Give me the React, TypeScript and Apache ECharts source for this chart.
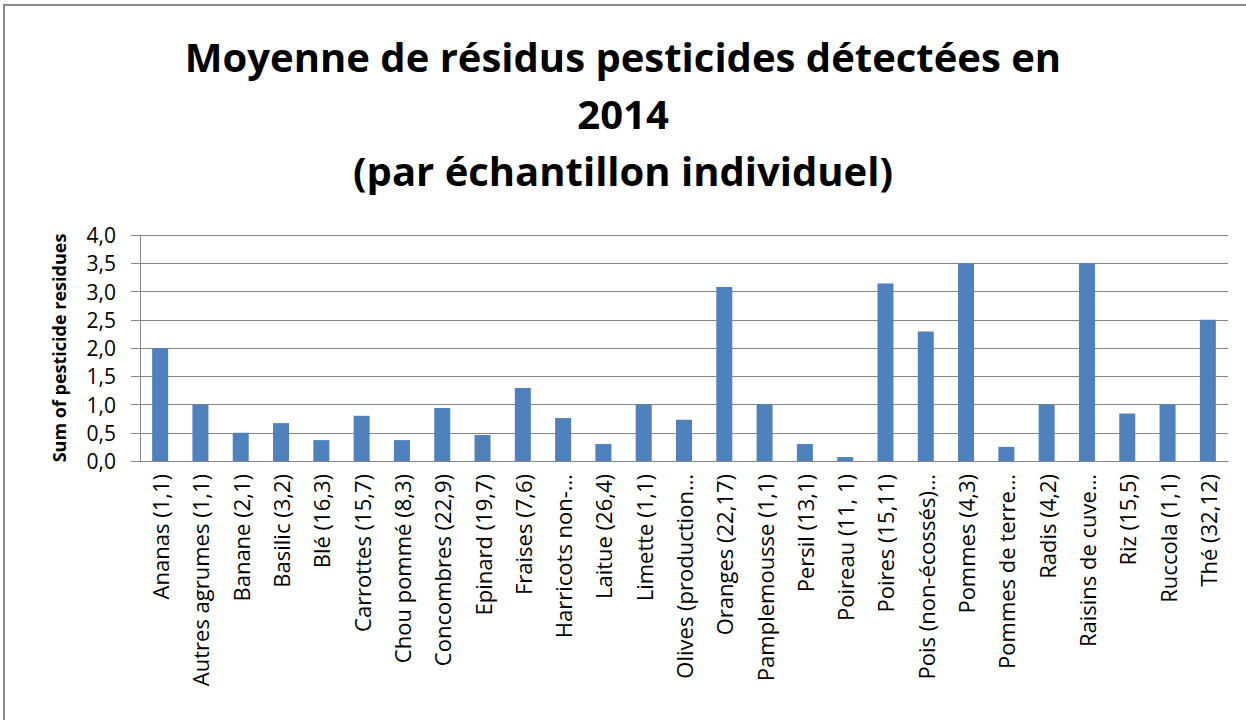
import React, { useEffect, useRef } from "react";
import * as echarts from "echarts";

const categories = [
  "Ananas (1,1)",
  "Autres agrumes (1,1)",
  "Banane (2,1)",
  "Basilic (3,2)",
  "Blé (16,3)",
  "Carrottes (15,7)",
  "Chou pommé (8,3)",
  "Concombres (22,9)",
  "Epinard (19,7)",
  "Fraises (7,6)",
  "Harricots non-…",
  "Laitue (26,4)",
  "Limette (1,1)",
  "Olives (production…",
  "Oranges (22,17)",
  "Pamplemousse (1,1)",
  "Persil (13,1)",
  "Poireau (11, 1)",
  "Poires (15,11)",
  "Pois (non-écossés)…",
  "Pommes (4,3)",
  "Pommes de terre…",
  "Radis (4,2)",
  "Raisins de cuve…",
  "Riz (15,5)",
  "Ruccola (1,1)",
  "Thé (32,12)",
];

const values = [
  2.0, 1.0, 0.5, 0.67, 0.37, 0.8, 0.37, 0.94, 0.46, 1.29, 0.76, 0.3, 1.0, 0.73,
  3.08, 1.0, 0.3, 0.07, 3.14, 2.29, 3.5, 0.25, 1.0, 3.5, 0.84, 1.0, 2.5,
];

const yTicks = { min: 0, max: 4, interval: 0.5 };

const titleText = "Moyenne de résidus pesticides détectées en\n2014\n(par échantillon individuel)";
const yAxisName = "Sum of pesticide residues";

const FONT = "'Open Sans', sans-serif";

export default function App() {
  const ref = useRef<HTMLDivElement>(null);
  useEffect(() => {
    document.body.style.margin = "0";
    const chart = echarts.init(ref.current!, null, { renderer: "svg" });
    chart.setOption({
      animation: false,
      backgroundColor: "#ffffff",
      title: {
        text: titleText,
        left: "center",
        top: 23,
        textStyle: {
          fontFamily: FONT,
          fontSize: 40,
          fontWeight: "bold",
          lineHeight: 57,
          color: "#000",
        },
      },
      graphic: [
        {
          type: "rect",
          shape: { x: 4, y: 5, width: 1300, height: 800 },
          style: { fill: "none", stroke: "#8a8a8a", lineWidth: 2 },
          silent: true,
        },
      ],
      grid: { left: 140, right: 18, top: 235, bottom: 259, containLabel: false },
      xAxis: {
        type: "category",
        data: categories,
        axisLine: { lineStyle: { color: "#868686", width: 1 } },
        axisTick: { alignWithLabel: false, length: 7, lineStyle: { color: "#868686" } },
        axisLabel: {
          rotate: 90,
          interval: 0,
          margin: 13,
          fontFamily: FONT,
          fontSize: 22,
          color: "#000",
        },
      },
      yAxis: {
        type: "value",
        min: yTicks.min,
        max: yTicks.max,
        interval: yTicks.interval,
        name: yAxisName,
        nameLocation: "middle",
        nameGap: 72,
        nameTextStyle: { fontFamily: FONT, fontSize: 18, fontWeight: "bold", color: "#000" },
        axisLine: { show: true, lineStyle: { color: "#868686" } },
        axisTick: { show: true, length: 9, lineStyle: { color: "#868686" } },
        splitLine: { lineStyle: { color: "#868686", width: 1 } },
        axisLabel: {
          margin: 24,
          fontFamily: FONT,
          fontSize: 21,
          lineHeight: 22,
          color: "#000",
          formatter: (v: number) => v.toFixed(1).replace(".", ","),
        },
      },
      series: [
        {
          type: "bar",
          data: values,
          barWidth: 16,
          itemStyle: { color: "#4F81BD" },
        },
      ],
    });
    return () => chart.dispose();
  }, []);
  return <div ref={ref} style={{ width: 1246, height: 720 }} />;
}
